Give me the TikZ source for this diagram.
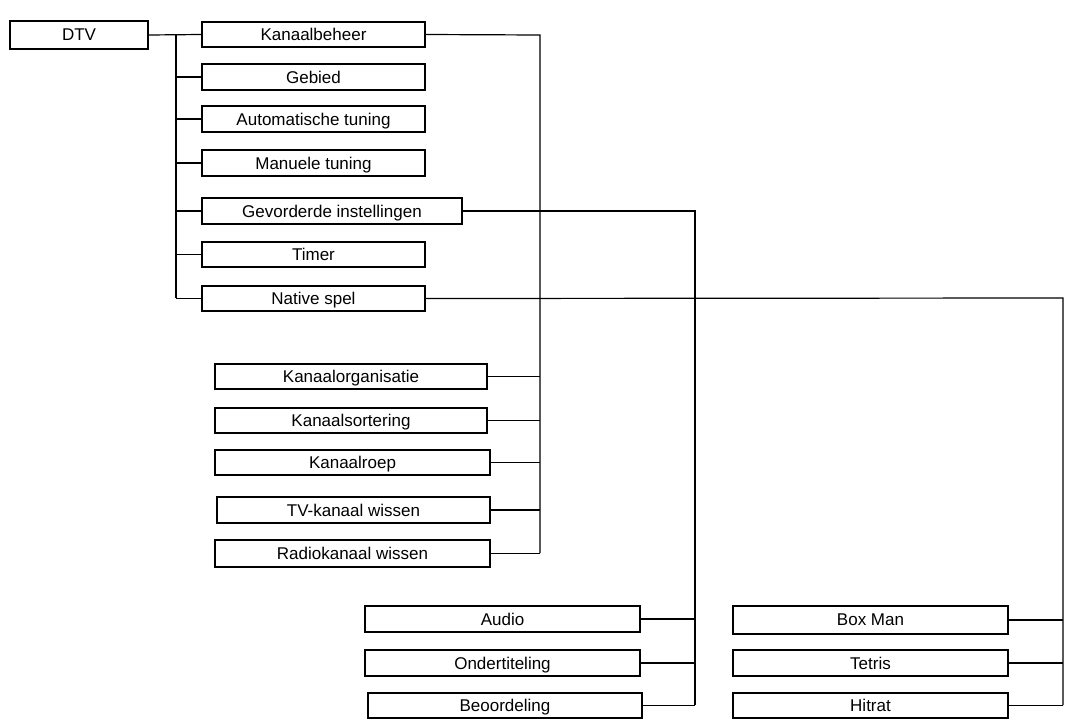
\documentclass[tikz,border=0pt]{standalone}
\usepackage{fontspec}
\setmainfont{Liberation Sans}
\begin{document}
\begin{tikzpicture}[x=1pt,y=-1pt,
  box/.style={draw,line width=1.8pt,minimum height=25pt,inner sep=0pt,font=\fontsize{17}{20}\selectfont,text depth=0pt},
  ln/.style={line width=1.2pt}]
\useasboundingbox (0,0) rectangle (1068,726);
\newcommand\bx[6]{\node[box,minimum width=#4-#3 pt,minimum height=#6-#5 pt] (#1) at ({(#3+#4)/2},{(#5+#6)/2}) {#2};}
\bx{dtv}{DTV}{10}{148}{21}{49}
\bx{kb}{Kanaalbeheer}{202}{425}{22}{47}
\bx{gb}{Gebied}{202}{425}{64}{90}
\bx{at}{Automatische tuning}{202}{425}{106}{132}
\bx{mt}{Manuele tuning}{202}{425}{150}{176}
\bx{gi}{Gevorderde instellingen}{202}{462}{198}{224}
\bx{ti}{Timer}{202}{425}{242}{267}
\bx{ns}{Native spel}{202}{425}{286}{311}
\bx{ko}{Kanaalorganisatie}{215}{487}{364}{389}
\bx{ks}{Kanaalsortering}{215}{487}{408}{433}
\bx{kr}{Kanaalroep}{215}{490}{450}{475}
\bx{tv}{TV-kanaal wissen}{217}{490}{497}{523}
\bx{rk}{Radiokanaal wissen}{215}{490}{540}{567}
\bx{au}{Audio}{365}{640}{606}{632}
\bx{on}{Ondertiteling}{365}{640}{650}{676}
\bx{be}{Beoordeling}{368}{642}{693}{718}
\bx{bm}{Box Man}{733}{1008}{606}{634}
\bx{te}{Tetris}{733}{1008}{650}{676}
\bx{hi}{Hitrat}{733}{1008}{693}{718}
\coordinate (t1) at (176,35);
\coordinate (t2) at (176,298);
\draw[ln] (dtv.east) -- (kb.west);
\draw[ln] (t1) -- (t2);
\foreach \n in {gb,at,mt,gi,ti,ns} \draw[ln] (\n.west) -- (\n.west -| t1);
\coordinate (a1) at (540,35); \coordinate (a2) at (540,553);
\draw[ln] (kb.east) -- (a1) -- (a2);
\foreach \n in {ko,ks,kr,tv,rk} \draw[ln] (\n.east) -- (\n.east -| a1);
\coordinate (b1) at (695,211); \coordinate (b2) at (695,705);
\draw[ln] (gi.east) -- (b1) -- (b2);
\foreach \n in {au,on,be} \draw[ln] (\n.east) -- (\n.east -| b1);
\coordinate (c1) at (1063,298); \coordinate (c2) at (1063,705);
\draw[ln] (ns.east) -- (c1) -- (c2);
\foreach \n in {bm,te,hi} \draw[ln] (\n.east) -- (\n.east -| c1);
\end{tikzpicture}
\end{document}
